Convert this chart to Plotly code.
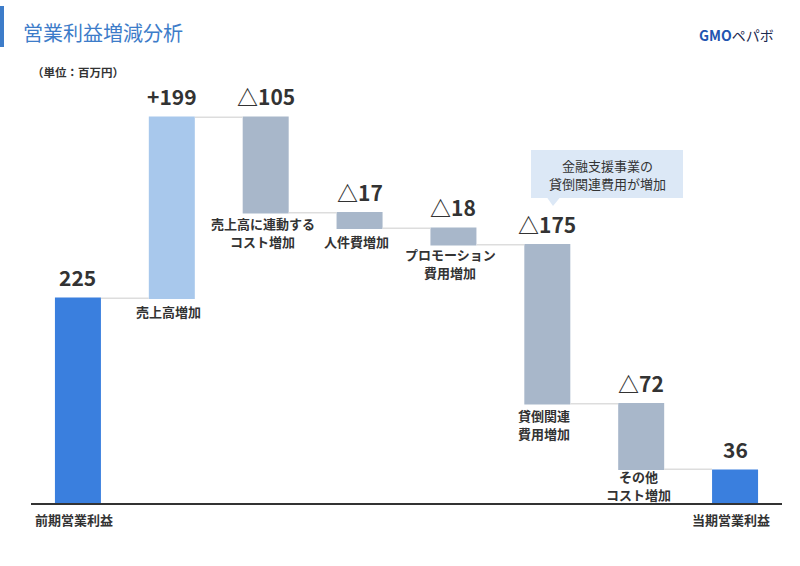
import plotly.graph_objects as go

# ---- data ----
categories = ["前期営業利益", "売上高増加", "売上高に連動するコスト増加", "人件費増加",
              "プロモーション費用増加", "貸倒関連費用増加", "その他コスト増加", "当期営業利益"]
category_labels = [["前期営業利益"], ["売上高増加"], ["売上高に連動する", "コスト増加"], ["人件費増加"],
                   ["プロモーション", "費用増加"], ["貸倒関連", "費用増加"], ["その他", "コスト増加"], ["当期営業利益"]]
values = [225, 199, -105, -17, -18, -175, -72, 36]
measures = ["absolute", "relative", "relative", "relative", "relative", "relative", "relative", "absolute"]
value_labels = ["225", "+199", "△105", "△17", "△18", "△175", "△72", "36"]
callout_lines = ["金融支援事業の", "貸倒関連費用が増加"]

FONT = "Noto Sans CJK JP"
DARK = "#333333"
BLUE = "#3D7CC9"

W, H = 800, 566
L, R, T, B = 31, 18, 80, 63
PW, PH = W - L - R, H - T - B

# pixel gap from bar bottom to first label line centre (style)
label_gap = [16, 13.5, 11, 13, 10, 11.5, 7.5, 16]
LINE_STEP = 18


def px_x(p):
    return (p - L) / PW


def px_y(p):
    return (T + PH - p) / PH


# compute bar extents
tops, bottoms = [], []
running = 0
for v, m in zip(values, measures):
    if m == "absolute":
        tops.append(max(v, 0)); bottoms.append(min(v, 0)); running = v
    else:
        end = running + v
        tops.append(max(running, end)); bottoms.append(min(running, end)); running = end

fig = go.Figure(go.Waterfall(
    x=categories, y=values, measure=measures,
    width=[0.49] * len(values),
    increasing=dict(marker=dict(color="#A8C8EC")),
    decreasing=dict(marker=dict(color="#A8B7CA")),
    totals=dict(marker=dict(color="#3A7FDE")),
    connector=dict(line=dict(color="#DDDDDD", width=1.5)),
    hoverinfo="skip",
))

annotations = []
n = len(categories)
for i, (c, t, b, vl, lines) in enumerate(zip(categories, tops, bottoms, value_labels, category_labels)):
    annotations.append(dict(x=c, y=t, xref="x", yref="y", text=f"<b>{vl}</b>", showarrow=False,
                            yanchor="bottom", yshift=4,
                            font=dict(family=FONT, size=21, color=DARK)))
    base = 0 if i in (0, n - 1) else b
    xs = -4 if i in (0, n - 1) else -3
    for k, ln in enumerate(lines):
        annotations.append(dict(x=c, y=base, xref="x", yref="y", text=f"<b>{ln}</b>", showarrow=False,
                                yanchor="middle", yshift=-(label_gap[i] + k * LINE_STEP), xshift=xs,
                                borderpad=0,
                                font=dict(family=FONT, size=13, color=DARK)))

# title, unit, logo
annotations.append(dict(x=px_x(21), y=px_y(33), xref="paper", yref="paper", text="営業利益増減分析",
                        showarrow=False, xanchor="left", yanchor="middle",
                        font=dict(family=FONT, size=20, color=BLUE)))
annotations.append(dict(x=px_x(30), y=px_y(72), xref="paper", yref="paper", text="<b>（単位：百万円）</b>",
                        showarrow=False, xanchor="left", yanchor="middle",
                        font=dict(family=FONT, size=11.5, color=DARK)))
annotations.append(dict(x=px_x(697), y=px_y(35), xref="paper", yref="paper",
                        text="<b><span style='color:#1F55B0'>GMO</span></b><span style='color:#1C2A50'>ペパボ</span>",
                        showarrow=False, xanchor="left", yanchor="middle",
                        font=dict(family=FONT, size=14, color=DARK)))
# callout text
for k, ln in enumerate(callout_lines):
    annotations.append(dict(x=px_x(607), y=px_y(165 + k * 18), xref="paper", yref="paper", text=ln,
                            showarrow=False, xanchor="center", yanchor="middle",
                            font=dict(family=FONT, size=13, color=DARK)))

shapes = [
    dict(type="rect", xref="paper", yref="paper", x0=px_x(0), x1=px_x(4), y0=px_y(6), y1=px_y(47),
         fillcolor=BLUE, line=dict(width=0), layer="above"),
    dict(type="rect", xref="paper", yref="paper", x0=px_x(531), x1=px_x(683), y0=px_y(198), y1=px_y(150),
         fillcolor="#DCE8F6", line=dict(width=0), layer="below"),
    dict(type="path", xref="paper", yref="paper",
         path=f"M {px_x(547)},{px_y(197.5)} L {px_x(560)},{px_y(197.5)} L {px_x(553)},{px_y(206)} Z",
         fillcolor="#DCE8F6", line=dict(width=0), layer="below"),
]

fig.update_layout(
    width=W, height=H,
    margin=dict(l=L, r=R, t=T, b=B),
    paper_bgcolor="white", plot_bgcolor="white",
    showlegend=False,
    font=dict(family=FONT, color=DARK),
    xaxis=dict(showticklabels=False, showgrid=False, zeroline=False, showline=True,
               linecolor=DARK, linewidth=2, ticks=""),
    yaxis=dict(range=[0, 465], showticklabels=False, showgrid=False, zeroline=False, showline=False),
    annotations=annotations,
    shapes=shapes,
)

fig.write_html("out.html", config={"displayModeBar": False},
               post_script="document.body.style.margin='0';")
